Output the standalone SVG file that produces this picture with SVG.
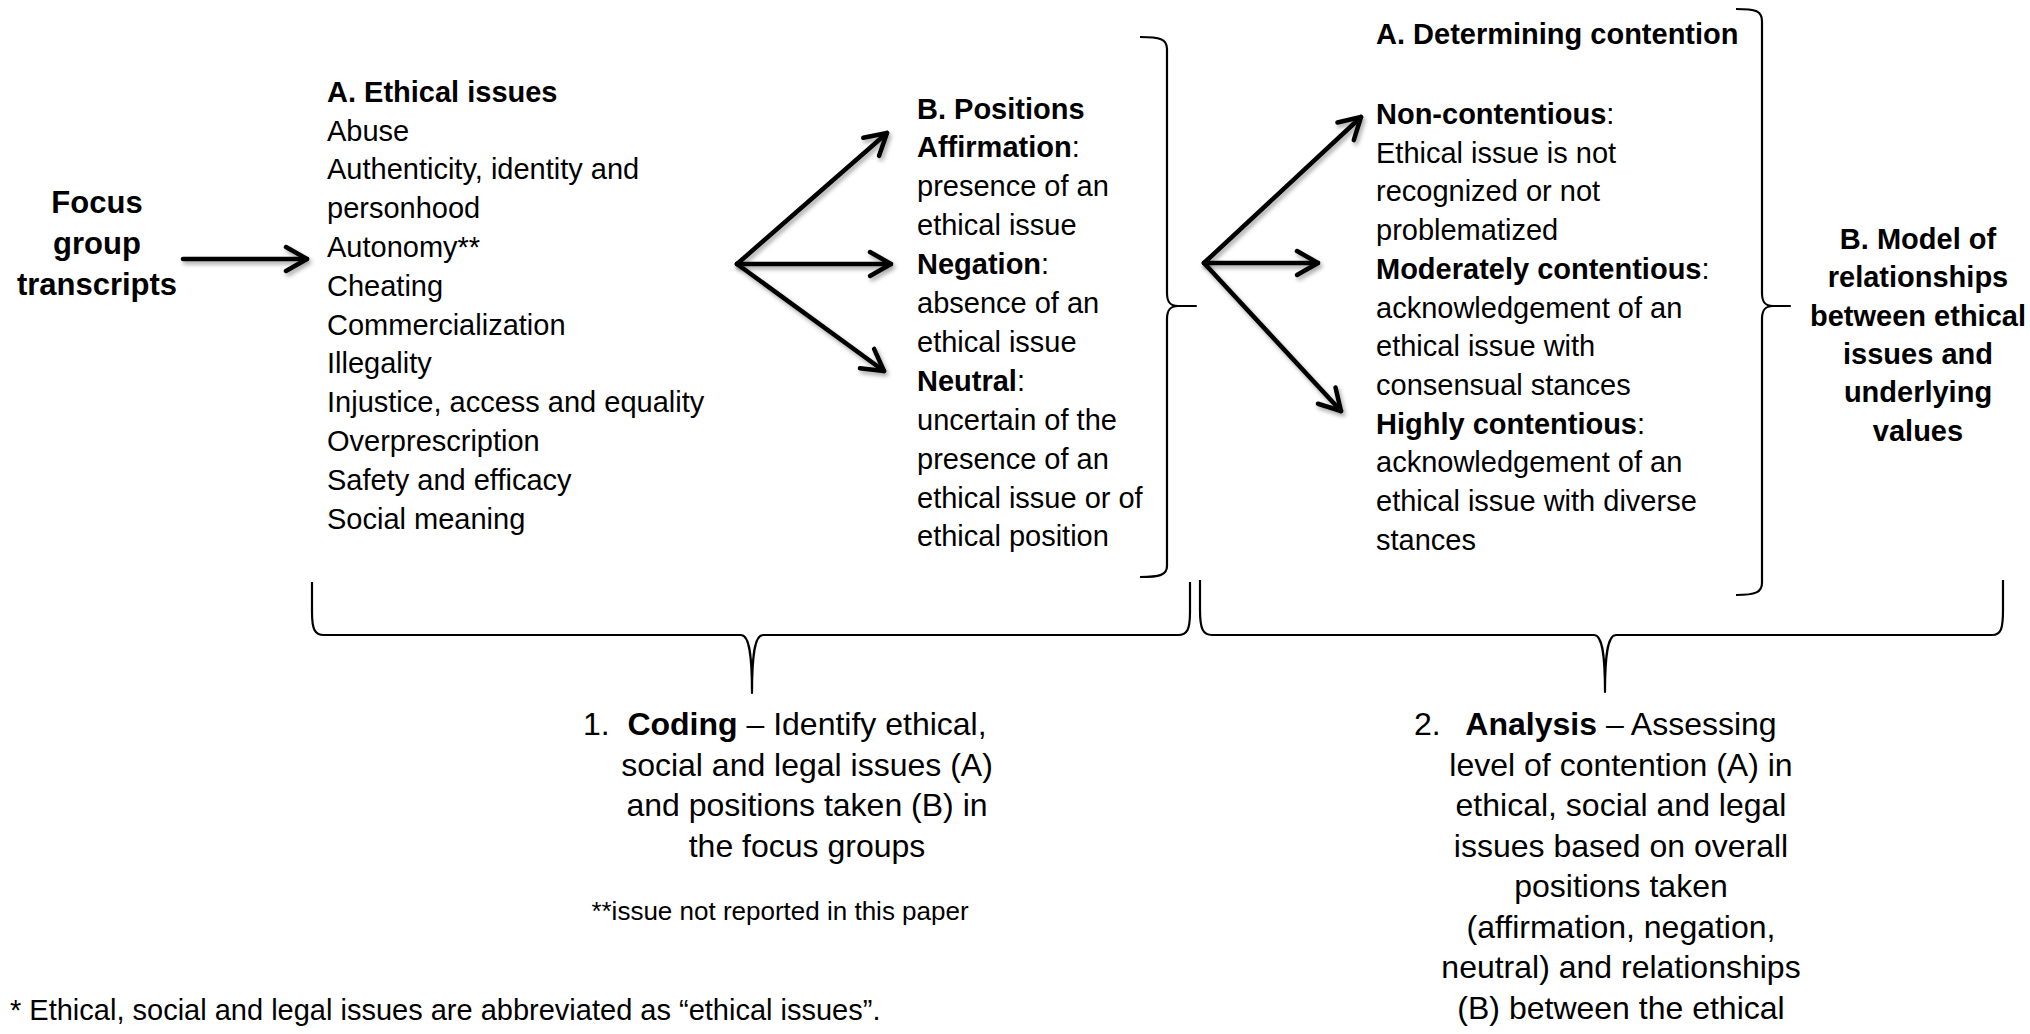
<svg xmlns="http://www.w3.org/2000/svg" width="2030" height="1034" viewBox="0 0 2030 1034">
<style>
text { font-family: "Liberation Sans", Arial, Helvetica, sans-serif; font-size: 29px; fill: #000; }
.b { font-weight: bold; }
.c { text-anchor: middle; }
.big { font-size: 31px; }
.mid { font-size: 32px; }
.note { font-size: 26px; }
.arrow { stroke: #000; stroke-width: 4.5; fill: none; stroke-linecap: round; marker-end: url(#head); filter: url(#sh); }
.brace { stroke: #000; stroke-width: 2.2; fill: none; stroke-linejoin: round; }
</style>
<defs>
<filter id="sh" filterUnits="userSpaceOnUse" x="0" y="0" width="2030" height="1034">
<feDropShadow dx="2" dy="3" stdDeviation="2" flood-color="#000" flood-opacity="0.35"/>
</filter>
<marker id="head" markerUnits="userSpaceOnUse" viewBox="-30 -20 40 40" markerWidth="40" markerHeight="40" refX="0" refY="0" orient="auto" overflow="visible">
<path d="M -21 -12 L 0 0 L -21 12" fill="none" stroke="#000" stroke-width="4.5" stroke-linecap="round" stroke-linejoin="round"/>
</marker>
</defs>
<rect width="2030" height="1034" fill="#fff"/>

<g id="focus">
<text class="b big c" x="97" y="213">Focus</text>
<text class="b big c" x="97" y="254">group</text>
<text class="b big c" x="97" y="295">transcripts</text>
</g>

<g id="ethical-issues">
<text class="b" x="327" y="101.7">A. Ethical issues</text>
<text x="327" y="140.5">Abuse</text>
<text x="327" y="179.3">Authenticity, identity and</text>
<text x="327" y="218.1">personhood</text>
<text x="327" y="256.9">Autonomy**</text>
<text x="327" y="295.7">Cheating</text>
<text x="327" y="334.5">Commercialization</text>
<text x="327" y="373.3">Illegality</text>
<text x="327" y="412.1">Injustice, access and equality</text>
<text x="327" y="450.9">Overprescription</text>
<text x="327" y="489.7">Safety and efficacy</text>
<text x="327" y="528.5">Social meaning</text>
</g>

<g id="positions">
<text class="b" x="917" y="118.5">B. Positions</text>
<text x="917" y="157.4"><tspan class="b">Affirmation</tspan>:</text>
<text x="917" y="196.3">presence of an</text>
<text x="917" y="235.2">ethical issue</text>
<text x="917" y="274.1"><tspan class="b">Negation</tspan>:</text>
<text x="917" y="313">absence of an</text>
<text x="917" y="351.9">ethical issue</text>
<text x="917" y="390.8"><tspan class="b">Neutral</tspan>:</text>
<text x="917" y="429.7">uncertain of the</text>
<text x="917" y="468.6">presence of an</text>
<text x="917" y="507.5">ethical issue or of</text>
<text x="917" y="546.4">ethical position</text>
</g>

<g id="contention">
<text class="b" x="1376" y="44">A. Determining contention</text>
<text x="1376" y="124"><tspan class="b">Non-contentious</tspan>:</text>
<text x="1376" y="162.7">Ethical issue is not</text>
<text x="1376" y="201.4">recognized or not</text>
<text x="1376" y="240.1">problematized</text>
<text x="1376" y="278.8"><tspan class="b">Moderately contentious</tspan>:</text>
<text x="1376" y="317.5">acknowledgement of an</text>
<text x="1376" y="356.2">ethical issue with</text>
<text x="1376" y="394.9">consensual stances</text>
<text x="1376" y="433.6"><tspan class="b">Highly contentious</tspan>:</text>
<text x="1376" y="472.3">acknowledgement of an</text>
<text x="1376" y="511">ethical issue with diverse</text>
<text x="1376" y="549.7">stances</text>
</g>

<g id="model">
<text class="b c" x="1918" y="249">B. Model of</text>
<text class="b c" x="1918" y="287.3">relationships</text>
<text class="b c" x="1918" y="325.6">between ethical</text>
<text class="b c" x="1918" y="363.9">issues and</text>
<text class="b c" x="1918" y="402.2">underlying</text>
<text class="b c" x="1918" y="440.5">values</text>
</g>

<g id="coding">
<text class="mid" x="583" y="735">1.</text>
<text class="mid c" x="807" y="735"><tspan class="b">Coding</tspan> – Identify ethical,</text>
<text class="mid c" x="807" y="775.5">social and legal issues (A)</text>
<text class="mid c" x="807" y="816">and positions taken (B) in</text>
<text class="mid c" x="807" y="856.5">the focus groups</text>
<text class="note c" x="780" y="920">**issue not reported in this paper</text>
</g>

<g id="analysis">
<text class="mid" x="1414" y="735">2.</text>
<text class="mid c" x="1621" y="735"><tspan class="b">Analysis</tspan> – Assessing</text>
<text class="mid c" x="1621" y="775.5">level of contention (A) in</text>
<text class="mid c" x="1621" y="816">ethical, social and legal</text>
<text class="mid c" x="1621" y="856.5">issues based on overall</text>
<text class="mid c" x="1621" y="897">positions taken</text>
<text class="mid c" x="1621" y="937.5">(affirmation, negation,</text>
<text class="mid c" x="1621" y="978">neutral) and relationships</text>
<text class="mid c" x="1621" y="1018.5">(B) between the ethical</text>
</g>

<g id="footnote">
<text x="10" y="1020">* Ethical, social and legal issues are abbreviated as “ethical issues”.</text>
</g>

<g id="connectors">
<line class="arrow" x1="183" y1="259" x2="307" y2="259"/>
<line class="arrow" x1="737" y1="264" x2="887" y2="133"/>
<line class="arrow" x1="737" y1="264" x2="891" y2="264"/>
<line class="arrow" x1="737" y1="264" x2="884" y2="371"/>
<line class="arrow" x1="1204" y1="263" x2="1361" y2="117"/>
<line class="arrow" x1="1204" y1="263" x2="1318" y2="263"/>
<line class="arrow" x1="1204" y1="263" x2="1341" y2="411"/>

<path class="brace" d="M1140,37 C1160,37 1167,39 1167,49 L1167,293 C1167,302 1170,306 1178,306 L1196,306 L1178,306 C1170,306 1167,310 1167,319 L1167,566 C1167,575 1160,577 1140,577"/>
<path class="brace" d="M1736,9 C1756,9 1762,11 1762,21 L1762,293 C1762,302 1765,306 1773,306 L1790,306 L1773,306 C1765,306 1762,310 1762,319 L1762,583 C1762,592 1756,595 1736,595"/>
<path class="brace" d="M312,582 L312,612 C312,630 315,635 324,635 L741,635 C748,635 752,648 752,693 C752,648 756,635 763,635 L1178,635 C1187,635 1190,630 1190,612 L1190,582"/>
<path class="brace" d="M1200,580 L1200,610 C1200,629 1203,635 1212,635 L1594,635 C1601,635 1605,648 1605,692 C1605,648 1609,635 1616,635 L1992,635 C2001,635 2003,629 2003,610 L2003,580"/>
</g>
</svg>
